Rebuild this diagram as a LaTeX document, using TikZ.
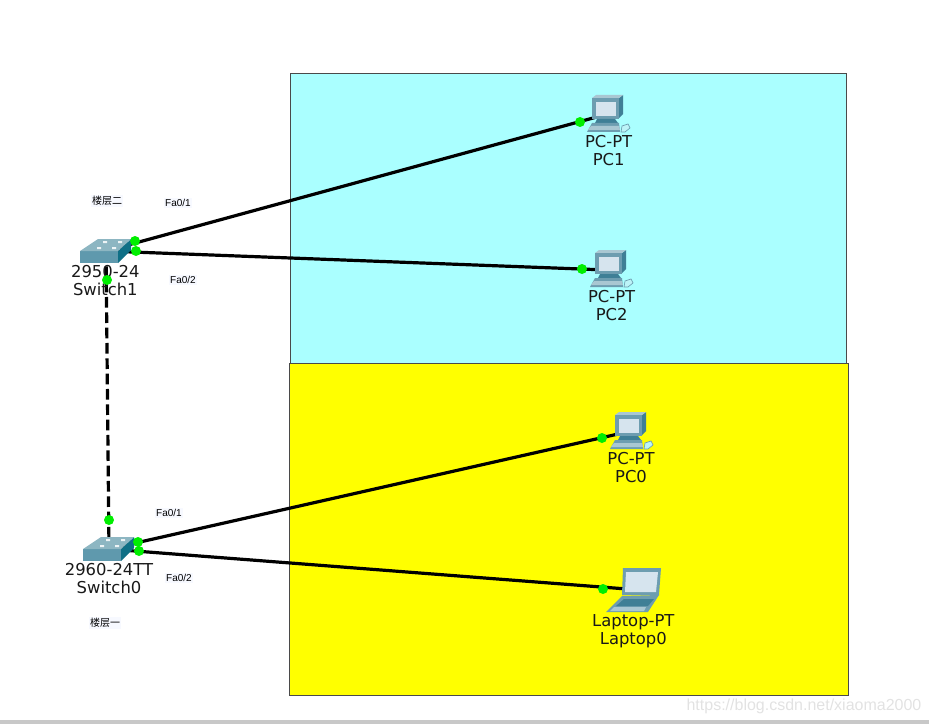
\documentclass[tikz,border=0pt]{standalone}
\usepackage{fontspec}
\setmainfont{Liberation Sans}
\newfontfamily\devfont{DejaVu Sans}
\newfontfamily\cjk{Noto Sans CJK SC}
\usetikzlibrary{positioning}
\definecolor{roomcyan}{HTML}{AAFFFF}
\definecolor{roomyellow}{HTML}{FFFF00}
\definecolor{roomedge}{HTML}{4A4A4A}
\definecolor{linkgreen}{HTML}{00EE00}
\definecolor{swtop}{HTML}{8DB6C2}
\definecolor{swfront}{HTML}{5F99AD}
\definecolor{swside}{HTML}{0F6F86}
\definecolor{pcframe}{HTML}{6D9DB0}
\definecolor{pcdark}{HTML}{3F7F96}
\definecolor{pcscreen}{HTML}{D6E4EE}
\definecolor{pcbase}{HTML}{A9C7D2}
\definecolor{notewash}{HTML}{F7F9FF}
\definecolor{markgray}{HTML}{E2E2E2}
\definecolor{barkgray}{HTML}{C8C8C8}
\tikzset{
  pcicon/.pic={
    \fill[pcdark] (15,-17) -- (19,-20) -- (19,-1) -- (15,3) -- cycle;
    \fill[pcbase] (-12,-17) -- (-8,-20) -- (19,-20) -- (15,-17) -- cycle;
    \fill[pcframe] (-12,-17) rectangle (15,4);
    \fill[pcscreen] (-8,-13) rectangle (12,1);
    \fill[pcdark] (-7,4) -- (11,4) -- (14,8) -- (-9,8) -- cycle;
    \fill[pcframe] (-12,8) -- (15,8) -- (16,17) -- (-17,17) -- cycle;
    \fill[pcbase] (-13,11) -- (15,11) -- (16,15) -- (-16,15) -- cycle;
    \draw[pcframe, line width=0.5pt, fill=pcscreen!40!roomcyan] (18,11) -- (24,9) -- (26,13) -- (21,17) -- (17,17) -- cycle;
  },
  switchicon/.pic={
    \fill[swfront] (-26,0) rectangle (12,12);
    \fill[swside] (12,0) -- (25,-12) -- (25,-1) -- (12,12) -- cycle;
    \fill[swtop] (-26,0) -- (-8,-12) -- (25,-12) -- (12,0) -- cycle;
    \fill[white!85!swtop] (-9,-4) rectangle (-5,-2) (6,-4) rectangle (10,-2)
      (-3,-10) rectangle (1,-8) (12,-10) rectangle (16,-8);
  },
  laptopicon/.pic={
    \fill[pcframe] (-17,-22) -- (21,-22) -- (19,5) -- (-18,5) -- cycle;
    \fill[pcscreen] (-14,-18) -- (18,-18) -- (16,2) -- (-15,2) -- cycle;
    \fill[pcframe] (-18,6) -- (19,5) -- (8,22) -- (-34,22) -- cycle;
    \fill[pcdark] (-16,9) -- (14,9) -- (8,16) -- (-24,16) -- cycle;
    \fill[pcbase] (-26,17) -- (6,17) -- (4,21) -- (-30,21) -- cycle;
  }
}
\begin{document}
\begin{tikzpicture}[
  x=0.75pt, y=-0.75pt,
  every node/.style={align=center},
  room/.style={draw=roomedge, line width=0.75pt},
  link/.style={line width=2.4pt, draw=black},
  trunk/.style={line width=2.4pt, draw=black, dash pattern=on 8pt off 3.5pt},
  dot/.style={circle, fill=linkgreen, inner sep=0pt, minimum size=7.5pt},
  host/.style={inner sep=0pt, minimum width=25pt, minimum height=25.5pt},
  hub/.style={inner sep=0pt, minimum width=39pt, minimum height=16pt},
  devtext/.style={font=\devfont\fontsize{12.3}{13.5}\selectfont, inner sep=0pt, text=black!90},
  note/.style={font=\fontsize{7.5}{9}\selectfont, fill=notewash, inner sep=1pt},
  floornote/.style={font=\cjk\fontsize{7.5}{9}\selectfont, fill=notewash, inner sep=1pt}
]
\useasboundingbox (0,0) rectangle (929,724);
\fill[barkgray] (0,720) rectangle (929,724);
\draw[room, fill=roomcyan] (290,74) rectangle (846,363);
\draw[room, fill=roomyellow] (289,363) rectangle (848,695);
% devices
\node[hub] (switch1) at (106,251) {};
\node[hub] (switch0) at (109,549) {};
\node[host] (pc1) at (604,115) {};
\node[host] (pc2) at (607,270) {};
\node[host] (pc0) at (627,432) {};
\node[host] (laptop0) at (640,590) {};
% links
\draw[link] (switch1.center) -- (pc1.center);
\draw[link] (switch1.center) -- (pc2.center);
\draw[link] (switch0.center) -- (pc0.center);
\draw[link] (switch0.center) -- (laptop0.center);
\draw[trunk] (switch1.center) -- (switch0.center);
\pic at (switch1) {switchicon};
\pic at (switch0) {switchicon};
\pic at (pc1) {pcicon};
\pic at (pc2) {pcicon};
\pic at (pc0) {pcicon};
\pic at (laptop0) {laptopicon};
% names
\node[devtext, below=2pt of switch1, xshift=-0.5pt] (switch1text) {2950-24\\Switch1};
\node[devtext, below=2pt of switch0] (switch0text) {2960-24TT\\Switch0};
\node[devtext, below=2pt of pc1, xshift=3.5pt] (pc1text) {PC-PT\\PC1};
\node[devtext, below=2pt of pc2, xshift=3.5pt] (pc2text) {PC-PT\\PC2};
\node[devtext, below=2pt of pc0, xshift=3pt] (pc0text) {PC-PT\\PC0};
\node[devtext, below=5.5pt of laptop0, xshift=-5pt] (laptop0text) {Laptop-PT\\Laptop0};
% port dots
\node[dot] (dot1a) at (135,241) {};
\node[dot] (dot1b) at (136,251) {};
\node[dot] (dot1c) at (107,280) {};
\node[dot] (dot0a) at (138,542) {};
\node[dot] (dot0b) at (139,551) {};
\node[dot] (dot0c) at (109,520) {};
\node[dot] (dotpc1) at (580,122) {};
\node[dot] (dotpc2) at (582,269) {};
\node[dot] (dotpc0) at (602,438) {};
\node[dot] (dotlaptop) at (603,589) {};
% notes
\node[floornote] (floor2) at (107,201) {楼层二};
\node[floornote] (floor1) at (105,623) {楼层一};
\node[note] (port1a) at (178,203) {Fa0/1};
\node[note] (port1b) at (183,280) {Fa0/2};
\node[note] (port0a) at (169,513) {Fa0/1};
\node[note] (port0b) at (179,578) {Fa0/2};
\node[font=\fontsize{12}{14}\selectfont, text=markgray, inner sep=0pt] (mark) at (804,706) {https://blog.csdn.net/xiaoma2000};
\end{tikzpicture}
\end{document}
